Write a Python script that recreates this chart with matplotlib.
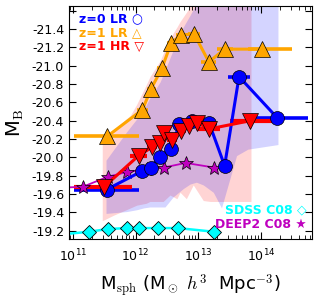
import numpy as np
import matplotlib
matplotlib.use("Agg")
import matplotlib.pyplot as plt

plt.rcParams['mathtext.fontset'] = 'cm'
plt.rcParams['font.family'] = ['DejaVu Sans']

# z=0 LR (blue circles)
z0_logm = [11.54, 12.10, 12.24, 12.39, 12.56, 12.70, 12.90, 13.17, 13.42, 13.65, 14.26]
z0_mb = [-19.65, -19.85, -19.89, -20.01, -20.09, -20.36, -20.40, -20.38, -19.91, -20.88, -20.43]
z0_lo = [11.02, 12.10, 12.24, 12.39, 12.56, 12.70, 12.90, 13.17, 13.42, 13.47, 13.80]
z0_hi = [12.06, 12.10, 12.24, 12.39, 12.56, 12.70, 12.90, 13.17, 13.42, 13.82, 14.75]

# z=1 LR (orange triangles)
z1lr_logm = [11.55, 12.11, 12.25, 12.42, 12.57, 12.72, 12.93, 13.17, 13.42, 14.01]
z1lr_mb = [-20.23, -20.52, -20.75, -20.97, -21.25, -21.33, -21.35, -21.04, -21.18, -21.18]
z1lr_lo = [11.02, 12.02, 12.18, 12.34, 12.50, 12.64, 12.84, 13.05, 13.30, 13.80]
z1lr_hi = [12.06, 12.20, 12.32, 12.50, 12.64, 12.80, 13.02, 13.28, 13.55, 14.50]

# z=1 HR (red down triangles)
z1hr_logm = [11.50, 12.05, 12.26, 12.39, 12.46, 12.58, 12.72, 12.86, 12.98, 13.17, 13.83]
z1hr_mb = [-19.68, -20.02, -20.11, -20.16, -20.27, -20.19, -20.29, -20.34, -20.38, -20.31, -20.40]
z1hr_lo = [11.02, 11.92, 12.18, 12.32, 12.40, 12.50, 12.64, 12.78, 12.90, 12.99, 13.50]
z1hr_hi = [11.95, 12.18, 12.34, 12.46, 12.54, 12.66, 12.80, 12.94, 13.06, 13.35, 14.34]

# DEEP2 C08 (stars)
deep2_logm = [10.80, 11.16, 11.56, 11.86, 12.18, 12.45, 12.80, 13.25]
deep2_mb = [-19.67, -19.68, -19.79, -19.84, -19.87, -19.89, -19.94, -19.89]

# SDSS C08 (diamonds)
sdss_logm = [10.80, 11.26, 11.56, 11.87, 12.06, 12.36, 12.68, 13.25]
sdss_mb = [-19.16, -19.19, -19.22, -19.23, -19.23, -19.23, -19.23, -19.19]

# shaded ranges
red_x = [11.47, 11.65, 11.92, 12.02, 12.17, 12.23, 12.39, 12.44, 12.55, 12.66, 12.71,
         12.81, 12.92, 13.08, 13.19, 13.50, 13.84]
red_hi = [-20.20, -20.30, -20.46, -20.58, -20.79, -20.88, -21.05, -21.13, -21.30, -21.42,
          -21.48, -21.58, -21.70, -22.0, -22.0, -22.0, -22.0]
red_lo = [-19.31, -19.37, -19.45, -19.48, -19.50, -19.52, -19.52, -19.52, -19.59, -19.55,
          -19.62, -19.55, -19.70, -19.53, -19.52, -19.52, -19.52]

blue_x = [11.53, 11.86, 12.02, 12.13, 12.23, 12.39, 12.47, 12.60, 12.76, 12.87, 12.97,
          13.08, 13.24, 13.37, 13.61, 13.79, 14.27]
blue_hi = [-19.97, -20.28, -20.42, -20.52, -20.65, -20.82, -20.95, -21.17, -21.42, -21.55,
           -21.68, -22.0, -22.0, -22.0, -22.0, -22.0, -22.0]
blue_lo = [-19.39, -19.41, -19.43, -19.45, -19.46, -19.46, -19.46, -19.57, -19.66, -19.71,
           -19.73, -19.70, -19.62, -19.45, -20.02, -20.09, -20.14]


def tolin(v):
    return 10 ** np.array(v)


fig = plt.figure(figsize=(3.15, 3.0), dpi=100)
ax = fig.add_axes([0.219, 0.203, 0.771, 0.777])

ax.fill_between(tolin(red_x), red_lo, red_hi, color='red', alpha=0.17, lw=0)
ax.fill_between(tolin(blue_x), blue_lo, blue_hi, color='blue', alpha=0.17, lw=0)

ax.plot(tolin(sdss_logm), sdss_mb, '-D', color='cyan', lw=1.8, ms=7,
        mec='k', mew=0.6)

x = tolin(z0_logm)
ax.errorbar(x, z0_mb, xerr=[x - tolin(z0_lo), tolin(z0_hi) - x], fmt='-o',
            color='blue', lw=2.2, elinewidth=2.6, ms=10, mec='k', mew=0.5, capsize=0)

x = tolin(z1hr_logm)
ax.errorbar(x, z1hr_mb, xerr=[x - tolin(z1hr_lo), tolin(z1hr_hi) - x], fmt='-v',
            color='red', lw=2.2, elinewidth=3, ms=11, mec='k', mew=0.5, capsize=0)

x = tolin(z1lr_logm)
ax.errorbar(x, z1lr_mb, xerr=[x - tolin(z1lr_lo), tolin(z1lr_hi) - x], fmt='-^',
            color='orange', lw=2.2, elinewidth=2.6, ms=11, mec='k', mew=0.5, capsize=0)

ax.plot(tolin(deep2_logm), deep2_mb, '-*', color=(0.75, 0, 0.75), lw=1.3, ms=10,
        mec='k', mew=0.5)

ax.set_xscale('log')
ax.set_xlim(10 ** 10.94, 10 ** 14.81)
ax.set_ylim(-19.11, -21.65)
yt = [-21.6, -21.4, -21.2, -21.0, -20.8, -20.6, -20.4, -20.2, -20.0, -19.8, -19.6, -19.4, -19.2]
ax.set_yticks(yt)
ax.set_yticklabels([''] + ['%.1f' % v for v in yt[1:]])
ax.tick_params(which='both', direction='in', top=True, right=True, labelsize=9)
ax.tick_params(which='major', length=5)
ax.tick_params(which='minor', length=3)
ax.tick_params(axis='x', pad=6)

ax.set_ylabel(r'M$_{\rm B}$', fontsize=14, labelpad=4)
ax.set_xlabel(r'M$_{\rm sph}$ (M$_\odot$ $h^3$  Mpc$^{-3}$)', fontsize=13, labelpad=6)

ax.text(0.04, 0.93, u'z=0 LR \u25cb', color='blue', fontsize=9, fontweight='bold',
        transform=ax.transAxes)
ax.text(0.04, 0.87, u'z=1 LR \u25b3', color='orange', fontsize=9, fontweight='bold',
        transform=ax.transAxes)
ax.text(0.04, 0.81, u'z=1 HR \u25bd', color='red', fontsize=9, fontweight='bold',
        transform=ax.transAxes)
ax.text(0.98, 0.11, u'SDSS C08 \u25c7', color='cyan', fontsize=9, fontweight='bold',
        ha='right', transform=ax.transAxes)
ax.text(0.98, 0.05, u'DEEP2 C08 \u2605', color=(0.75, 0, 0.75), fontsize=9,
        fontweight='bold', ha='right', transform=ax.transAxes)

fig.savefig('out.png', dpi=100)
